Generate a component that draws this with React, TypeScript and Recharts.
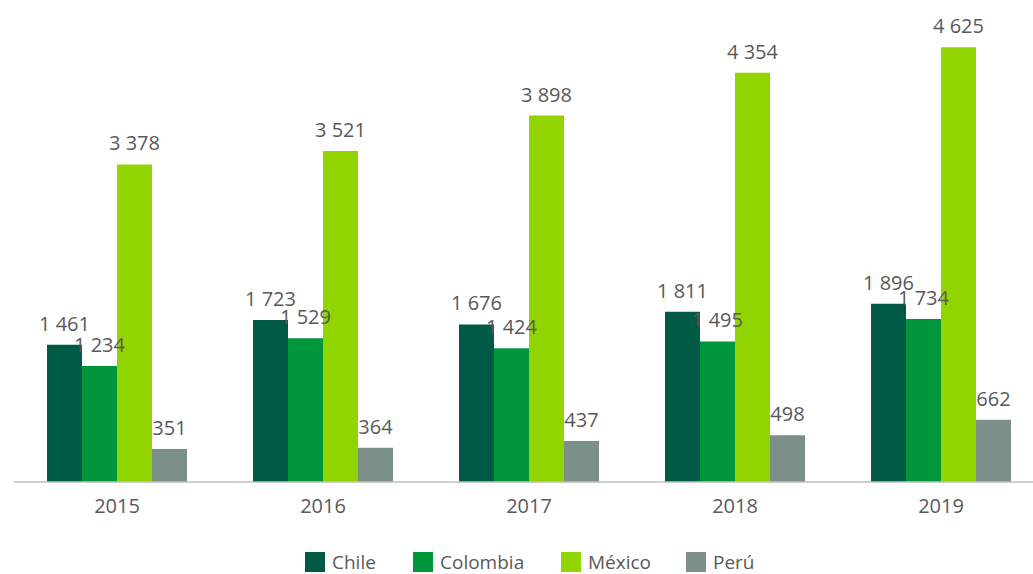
import React from "react";
import { BarChart, Bar, XAxis, YAxis, LabelList } from "recharts";

const YEARS = ["2015", "2016", "2017", "2018", "2019"];
const CHILE = [1461, 1723, 1676, 1811, 1896];
const COLOMBIA = [1234, 1529, 1424, 1495, 1734];
const MEXICO = [3378, 3521, 3898, 4354, 4625];
const PERU = [351, 364, 437, 498, 662];

const SERIES = [
  { key: "chile", name: "Chile", color: "#005a46", values: CHILE },
  { key: "colombia", name: "Colombia", color: "#00963c", values: COLOMBIA },
  { key: "mexico", name: "México", color: "#92d400", values: MEXICO },
  { key: "peru", name: "Perú", color: "#7a9088", values: PERU },
];

// legend slot widths (px), matching the spacing of the original
const LEGEND_SLOTS = [108, 148, 125, 80];

const TEXT = "#595959";
const FONT = "'Open Sans', 'Noto Sans', sans-serif";

// thousands separated by a no-break space so the label stays on one line
const fmt = (v: number) => String(v).replace(/\B(?=(\d{3})+(?!\d))/g, "\u00a0");

export default function App() {
  const data = YEARS.map((year, i) => {
    const row: Record<string, string | number> = { year };
    SERIES.forEach((s) => {
      row[s.key] = s.values[i];
    });
    return row;
  });

  return (
    <div
      style={{
        position: "absolute",
        left: 0,
        top: 0,
        width: 1033,
        height: 574,
        overflow: "hidden",
        background: "#fff",
        fontFamily: FONT,
      }}
    >
      <BarChart
        width={1050}
        height={574}
        data={data}
        margin={{ top: 12, right: 6, bottom: 0, left: 14 }}
        barGap={0}
        barSize={35}
      >
        <XAxis
          dataKey="year"
          height={92}
          axisLine={{ stroke: "#bfbfbf", strokeWidth: 1.5 }}
          tickLine={false}
          tickMargin={11}
          tick={{ fontSize: 20, fill: TEXT, fontFamily: FONT }}
        />
        <YAxis hide domain={[0, 5000]} />
        {SERIES.map((s) => (
          <Bar
            key={s.key}
            dataKey={s.key}
            name={s.name}
            fill={s.color}
            isAnimationActive={false}
          >
            <LabelList
              dataKey={s.key}
              position="top"
              offset={14}
              formatter={(v: any) => fmt(Number(v))}
              style={{ fontSize: 20, fill: TEXT, fontFamily: FONT }}
            />
          </Bar>
        ))}
      </BarChart>

      {/* legend */}
      <div
        style={{
          position: "absolute",
          top: 551,
          left: 305,
          display: "flex",
          fontSize: 19,
          color: TEXT,
          lineHeight: "22px",
        }}
      >
        {SERIES.map((s, i) => (
          <div
            key={s.key}
            style={{ display: "flex", alignItems: "center", width: LEGEND_SLOTS[i] }}
          >
            <span
              style={{
                display: "inline-block",
                width: 20,
                height: 20,
                background: s.color,
                marginRight: 7,
              }}
            />
            <span>{s.name}</span>
          </div>
        ))}
      </div>
    </div>
  );
}
